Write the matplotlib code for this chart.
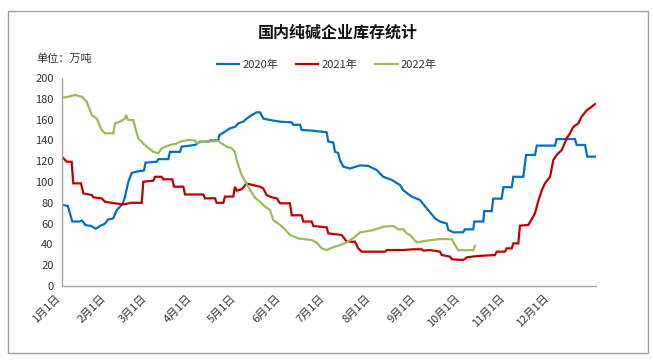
import matplotlib
matplotlib.use("Agg")
import matplotlib.pyplot as plt
from matplotlib.patches import Rectangle

plt.rcParams['font.family'] = ['Noto Sans CJK SC', 'DejaVu Sans']

# ---- data (day of year, inventory in 10k tonnes) ----
days_2020 = [0, 4, 7, 12, 13.5, 16, 20, 23, 26, 29.4, 31.6, 35, 37.4, 40.8, 41.7, 43.1, 45.3, 47.6,
             51.1, 56, 57.1, 64.7, 65.8, 72.7, 73.8, 80.7, 81.8, 90.9, 94.3, 100, 101.2, 106.8,
             107.5, 111.4, 114.8, 118.2, 120.5, 123.9, 126.2, 129.7, 133.1, 135.3, 137.6, 142.2,
             149, 157, 158.1, 162.7, 163.8, 171.8, 180.9, 182, 185.4, 186.6, 188.7, 190, 192.3,
             196.9, 203.7, 209.4, 215.1, 219.6, 225.4, 231.1, 233.3, 239, 244.7, 249.3, 255,
             258.4, 263, 264, 267.5, 274.1, 275.5, 281.1, 281.8, 288, 288.6, 293.7, 294.8, 300.5,
             301.7, 307.4, 308.5, 315.3, 317.2, 323.3, 324.5, 337, 338.1, 350.6, 351.8, 357.5,
             359, 364.3]
vals_2020 = [78, 77, 62, 62, 63, 58.6, 57.7, 55, 57.7, 60, 64, 65, 73, 78, 80, 86, 100, 108.6,
             110, 111, 118.6, 119.5, 122, 122, 129, 129, 134, 135.6, 138.8, 138.8, 140, 140,
             145, 148.4, 151.6, 153, 156.4, 158, 161, 164.4, 167, 167, 161, 159.6,
             158, 157.4, 155, 155, 150, 149.3, 147.8, 138.8, 138, 129, 128, 121, 114.7,
             113, 116, 115.4, 111.5, 105, 102, 97, 92, 86, 82.7, 74.7, 65,
             62, 60, 54, 51.6, 51.6, 54.5, 54.5, 62, 62, 72, 72, 84, 84,
             95, 95, 105, 105, 126, 126, 135, 135, 141.3, 141.3, 135.6, 135.6,
             124.4, 124.4]

days_2021 = [0, 3.2, 6.6, 7.7, 13, 14.6, 20.3, 21.4, 27.1, 29.4, 36.2, 41.9, 47.6, 54.5, 55.6,
             62.4, 63.6, 68.1, 69.2, 75.4, 76.6, 82.9, 84.1, 96.6, 97.7, 104.6, 105.7, 110.3,
             111.4, 117.1, 118.2, 119.4, 122.8, 126.2, 130.8, 135.3, 137.4, 139.9, 143.3, 146.8,
             149, 155.8, 157, 163.8, 164.9, 170.7, 171.8, 180.9, 182, 191.2, 194.6, 200.3, 202.5,
             204.9, 220.8, 222, 233.3, 240.1, 245.9, 247, 251.5, 258.4, 259.5, 265.2, 266.4,
             274.3, 276.6, 283.5, 296, 297.1, 302.8, 304, 307.4, 308.5, 311.9, 313, 318.7, 321,
             323.3, 325.6, 327.9, 330.1, 333.6, 335.8, 338.1, 341.6, 345, 347.2, 349.5, 352.9,
             355.2, 358.7, 362.1, 364.3]
vals_2021 = [124.4, 119.5, 119.5, 98.7, 98.7, 89, 87.5, 85.3, 84.3, 81, 79.5, 78.5, 80, 80, 100.3,
             101.3, 105, 105, 102.6, 102.6, 95.5, 95.5, 88, 88, 84.3, 84.3, 80, 80,
             86, 86, 95.5, 91.7, 93, 98.5, 97, 95.5, 94, 87.5, 85.3, 84.3,
             79.5, 79.5, 68, 68, 62, 62, 57.7, 56.4, 50.7, 49, 42.6, 42.6, 36.2,
             33, 33, 34.6, 34.6, 35.3, 35.3, 34, 34.6, 33, 29.8, 28.2, 25.7,
             25, 27.5, 28.8, 29.8, 33, 33, 36.2, 36.2, 41, 41, 58, 58.7, 64,
             70, 82, 92, 98.7, 105, 121, 126, 130.8, 142, 146.8, 153, 156.4,
             162.8, 169, 172.4, 175]

days_2022 = [0, 4.3, 8.9, 13.5, 16.9, 19.1, 20.3, 23.7, 27.1, 29.4, 35.1, 36.2, 39.6, 43.1, 43.7,
             45.3, 48.7, 49.9, 52.2, 55.6, 57.9, 62.4, 65.8, 68.1, 73.8, 78.4, 80.7, 86.3, 90.9,
             92.1, 96.6, 106.8, 109.2, 112.6, 116, 118.2, 119.4, 121.7, 122.8, 125.1, 128.5,
             131.9, 135.3, 138.8, 142.2, 144.4, 149, 152.4, 155.8, 161.5, 170.7, 174.1, 177.5,
             180.9, 184.3, 190, 195.7, 200.3, 203.7, 212.8, 219.6, 226.5, 229.9, 233.3, 235.6,
             237.9, 242.4, 249.3, 258.4, 266.4, 268.6, 270.9, 281.1, 282.3]
vals_2022 = [181, 182, 183.6, 182, 177, 169, 164.4, 161, 150, 146.8, 146.8, 156.4, 158, 161, 164.4,
             159.6, 159.6, 153, 142, 137, 134, 129, 127.6, 132.4, 135.6, 137, 138.8, 140.4, 140,
             137.5, 138.8, 139.4, 137, 134, 132.4, 129, 121, 111, 106.7, 101, 92.3,
             85, 81, 76.3, 73, 63.5, 58.7, 54.5, 49, 45.8, 44.2, 41.6, 36.2,
             34.6, 36.8, 39.4, 42.6, 47.4, 51.5, 53.8, 57, 57.7, 54.5, 54.5, 50.7,
             49, 42, 43.6, 45.2, 45, 39.4, 34.4, 34.4, 38.5]

month_days = [0, 31, 59, 90, 120, 151, 181, 212, 243, 273, 304, 334]
month_labels = ["1月1日", "2月1日", "3月1日", "4月1日", "5月1日", "6月1日",
                "7月1日", "8月1日", "9月1日", "10月1日", "11月1日", "12月1日"]
series_names = ["2020年", "2021年", "2022年"]
colors = ["#0070C0", "#C00000", "#9BBB59"]

W, H = 653, 361
fig = plt.figure(figsize=(W / 100, H / 100), dpi=100)
ax = fig.add_axes([62 / W, 1 - 286 / H, (596 - 62) / W, (286 - 78) / H])

for d, v, name, c in zip([days_2020, days_2021, days_2022],
                         [vals_2020, vals_2021, vals_2022], series_names, colors):
    ax.plot(d, v, color=c, lw=1.6, label=name, solid_joinstyle='miter')

ax.set_xlim(0, 365)
ax.set_ylim(0, 200)
ax.set_yticks(range(0, 201, 20))
ax.set_xticks(month_days)
ax.set_xticklabels(month_labels, rotation=45, ha='right', va='top', fontsize=8, color='#333333')
ax.tick_params(axis='y', length=0, labelsize=8, labelcolor='#333333', pad=6)
ax.tick_params(axis='x', length=0, pad=5)
for s in ['top', 'right']:
    ax.spines[s].set_visible(False)
for s in ['left', 'bottom']:
    ax.spines[s].set_color('#a6a6a6')
    ax.spines[s].set_linewidth(1)

fig.text(338 / W, 1 - 33 / H, "国内纯碱企业库存统计", ha='center', va='center',
         fontsize=11.5, fontweight='bold', color='#111111')
fig.text(36 / W, 1 - 59 / H, "单位：万吨", ha='left', va='center', fontsize=8, color='#333333')

fig.legend(loc='center', bbox_to_anchor=(327 / W, 1 - 65 / H), ncol=3, frameon=False,
           fontsize=8, handlelength=2.0, columnspacing=1.6, handletextpad=0.3,
           labelcolor='#333333')

fig.patches.append(Rectangle((8 / W, 1 - 353 / H), 640 / W, 342 / H, transform=fig.transFigure,
                             fill=False, edgecolor='#a0a0a0', lw=1))

fig.savefig("out.png", dpi=100)
